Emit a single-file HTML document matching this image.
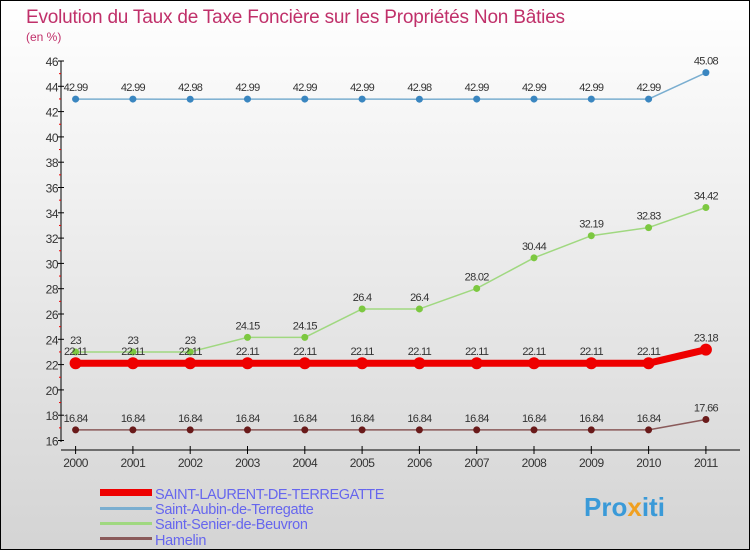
<!DOCTYPE html>
<html><head><meta charset="utf-8"><style>
body{margin:0}
svg{display:block;font-family:"Liberation Sans",sans-serif}
</style></head><body>
<svg width="750" height="550" viewBox="0 0 750 550">
<defs><linearGradient id="bg" x1="0" y1="0" x2="0" y2="1"><stop offset="0" stop-color="#ffffff"/><stop offset="1" stop-color="#d4d4d4"/></linearGradient></defs>
<rect x="0.5" y="0.5" width="749" height="549" fill="url(#bg)" stroke="#000"/>
<text x="26" y="23" font-size="19" letter-spacing="-0.2" fill="#c0306a">Evolution du Taux de Taxe Foncière sur les Propriétés Non Bâties</text>
<text x="26" y="41" font-size="12" fill="#c0306a">(en %)</text>
<g id="axes"></g>
<g id="series"></g>
<g>
<rect x="100" y="489" width="52" height="7" fill="#e00"/>
<text x="155" y="499" font-size="14.5" letter-spacing="-0.4" fill="#6666ee">SAINT-LAURENT-DE-TERREGATTE</text>
<rect x="100" y="507" width="52" height="3" fill="#7aaed0"/>
<text x="155" y="514" font-size="14.5" letter-spacing="-0.3" fill="#6666ee">Saint-Aubin-de-Terregatte</text>
<rect x="100" y="522" width="52" height="3" fill="#a0d880"/>
<text x="155" y="529" font-size="14.5" letter-spacing="-0.3" fill="#6666ee">Saint-Senier-de-Beuvron</text>
<rect x="100" y="537" width="52" height="3" fill="#8a5a5a"/>
<text x="155" y="545" font-size="14.5" letter-spacing="-0.3" fill="#6666ee">Hamelin</text>
</g>
<text x="584" y="516" font-size="26" font-weight="bold" fill="#3a9ad8">Pro<tspan fill="#f0a020">x</tspan>iti</text>
</svg>
<script>
const years=["2000","2001","2002","2003","2004","2005","2006","2007","2008","2009","2010","2011"];
const yTicks=[16,18,20,22,24,26,28,30,32,34,36,38,40,42,44,46];
const stLaurent=[22.11,22.11,22.11,22.11,22.11,22.11,22.11,22.11,22.11,22.11,22.11,23.18];
const stAubin=[42.99,42.99,42.98,42.99,42.99,42.99,42.98,42.99,42.99,42.99,42.99,45.08];
const stSenier=[23,23,23,24.15,24.15,26.4,26.4,28.02,30.44,32.19,32.83,34.42];
const hamelin=[16.84,16.84,16.84,16.84,16.84,16.84,16.84,16.84,16.84,16.84,16.84,17.66];
const NS="http://www.w3.org/2000/svg";
const x=i=>75.6+i*57.3;
const y=v=>61+(46-v)*12.65;
function mk(t,a,p){const e=document.createElementNS(NS,t);for(const k in a)e.setAttribute(k,a[k]);p.appendChild(e);return e;}
const ax=document.getElementById('axes');
const yl=mk('line',{x1:61,y1:61,x2:61,y2:442,stroke:'#000'},ax);


const xl=mk('line',{x1:61,y1:450,x2:740,y2:450,stroke:'#000'},ax);


yTicks.forEach(v=>{
 mk('line',{x1:58,y1:y(v),x2:64,y2:y(v),stroke:'#000'},ax);
 if(v<46) mk('line',{x1:59,y1:y(v+1),x2:61,y2:y(v+1),stroke:'#e00'},ax);
 const t=mk('text',{x:58,y:y(v)+5,'text-anchor':'end','font-size':12,fill:'#333','letter-spacing':'-0.5'},ax);
 t.textContent=v;
 
 
});
years.forEach((yr,i)=>{
 mk('line',{x1:x(i),y1:446,x2:x(i),y2:454,stroke:'#000'},ax);
 const t=mk('text',{x:x(i),y:467,'text-anchor':'middle','font-size':12,fill:'#333','letter-spacing':'-0.5'},ax);
 t.textContent=yr;
 
 
});
const sg=document.getElementById('series');
function series(data,color,dot,w,r,name){
 const g=mk('g',{},sg);
 
 
 mk('polyline',{points:data.map((v,i)=>x(i)+','+y(v)).join(' '),fill:'none',stroke:color,'stroke-width':w,'stroke-linejoin':'round'},g);
 data.forEach((v,i)=>{
  const c=mk('circle',{cx:x(i),cy:y(v),r:r,fill:dot},g);
  
  
  const t=mk('text',{x:x(i),y:y(v)-8,'text-anchor':'middle','font-size':11,fill:'#333','letter-spacing':'-0.7'},g);
  t.textContent=String(v);
  
  
 });
}
series(hamelin,'#8a5a5a','#6a1a1a',1.5,3.5,'series-hamelin');
series(stSenier,'#a0d880','#7cc840',1.5,3.5,'series-saint-senier');
series(stAubin,'#7aaed0','#3a86c0',1.5,3.5,'series-saint-aubin');
series(stLaurent,'#e00','#e00',7,6,'series-saint-laurent');
</script>
</body></html>
